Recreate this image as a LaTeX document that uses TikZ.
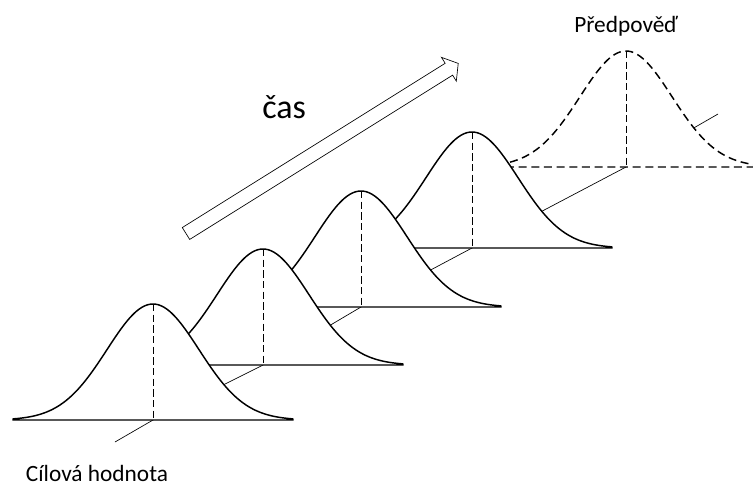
\documentclass[tikz,border=0pt]{standalone}
\usepackage{fontspec}
\setmainfont{Carlito}
\usetikzlibrary{calc}

\begin{document}
\begin{tikzpicture}[
  x=0.75pt, y=-0.75pt,
  bell/.style={draw=black, fill=white, line width=1.1pt, line join=round},
  predbell/.style={bell, dash pattern=on 6pt off 3.5pt},
  meanline/.style={draw=black, line width=0.6pt, dash pattern=on 5.5pt off 2.5pt},
  timeaxis/.style={draw=black, line width=0.5pt},
  timearrow/.style={draw=black, fill=white, line width=0.5pt, line join=miter},
  lbl/.style={font=\fontsize{17.5}{21}\selectfont, inner sep=0pt, anchor=base},
  biglbl/.style={font=\fontsize{25.5}{30}\selectfont, inner sep=0pt, anchor=base west},
]

\useasboundingbox (0,0) rectangle (753,486);
\clip (0,0) rectangle (753,486);

% centres of the distributions on the time axis
\coordinate (c1) at (153,420);
\coordinate (c2) at (263,365);
\coordinate (c3) at (361,307);
\coordinate (c4) at (472,248);
\coordinate (c5) at (626,167);
\coordinate (a0) at (115,442);
\coordinate (a6) at (718,114);

% time axis
\draw[timeaxis] (a0) -- (c1) -- (c2) -- (c3) -- (c4) -- (c5) -- (a6);

% forecast (dashed)
\begin{scope}[shift={(c5)}]
  \draw[predbell] (-140,0) -- plot[domain=-3.04:3.04, samples=61, smooth]
        ({46*\x}, {-116*exp(-0.5*\x*\x)}) -- (140,0) -- cycle;
  \draw[meanline] (0,-116) -- (0,0);
\end{scope}

% observed distributions, back to front
\foreach \i in {4,3,2,1} {
  \begin{scope}[shift={(c\i)}]
    \draw[bell] (-140,0) -- plot[domain=-3.04:3.04, samples=61, smooth]
          ({46*\x}, {-116*exp(-0.5*\x*\x)}) -- (140,0) -- cycle;
    \draw[meanline] (0,-116) -- (0,0);
  \end{scope}
}

% time arrow
\begin{scope}[shift={(186,233.5)}, rotate=32]
  \draw[timearrow] (0,-7) -- (310,-7) -- (310,-14) -- (321,0) -- (310,14)
        -- (310,7) -- (0,7) -- cycle;
\end{scope}

% labels
\node[biglbl] (cas) at (262,118) {čas};
\node[lbl] (pred) at (626,32) {Předpověď};
\node[lbl] (target) at (97,481) {Cílová hodnota};

\end{tikzpicture}
\end{document}
